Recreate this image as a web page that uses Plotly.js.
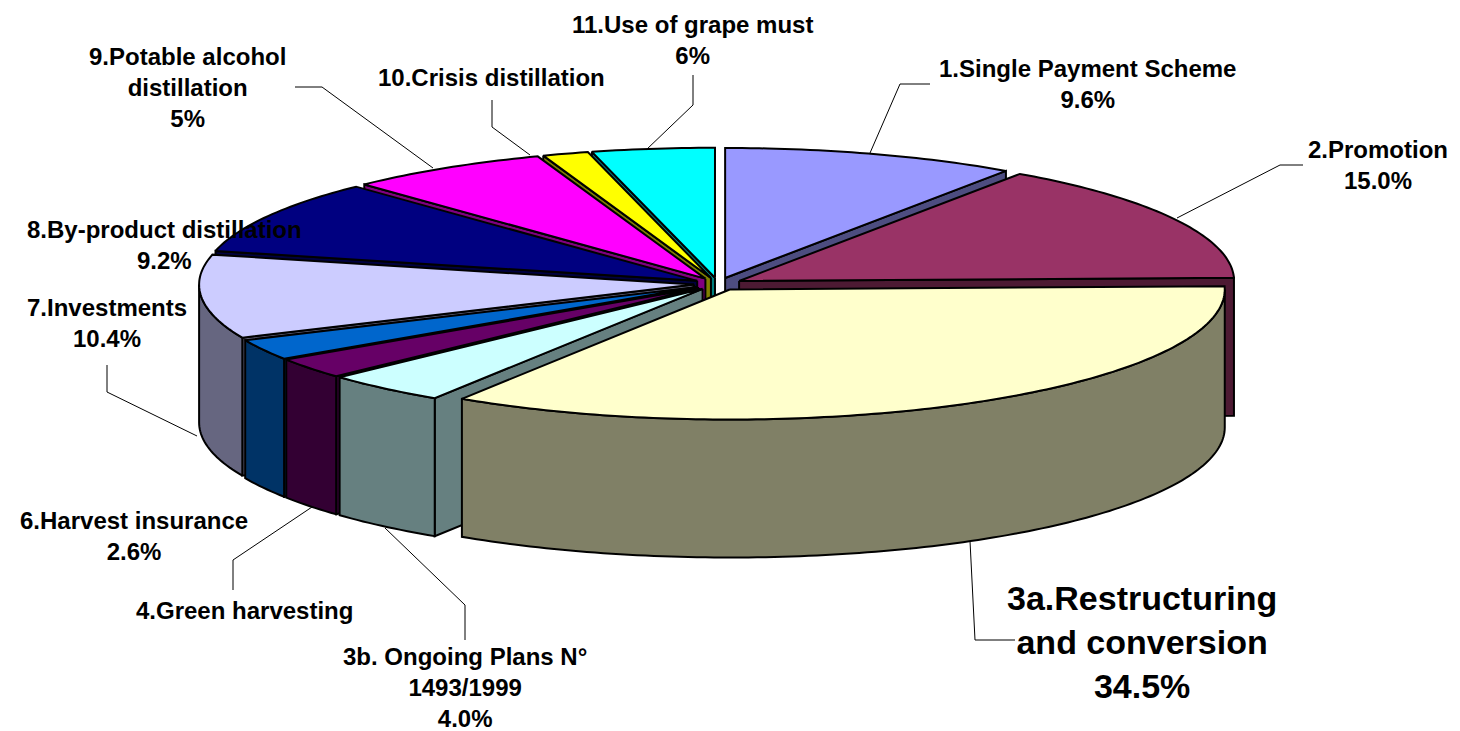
<!DOCTYPE html>
<html>
<head>
<meta charset="utf-8">
<script src="https://cdn.plot.ly/plotly-3.0.1.min.js"></script>
<style>html,body{margin:0;padding:0;background:#fff}#chart{width:1460px;height:731px}</style>
</head>
<body>
<div id="chart"></div>
<script>
// Data
const categories = ["1.Single Payment Scheme","2.Promotion","3a.Restructuring and conversion","3b. Ongoing Plans N° 1493/1999","4.Green harvesting","6.Harvest insurance","7.Investments","8.By-product distillation","9.Potable alcohol distillation","10.Crisis distillation","11.Use of grape must"];
const values = [9.6,15.0,34.5,4.0,2.6,2.6,10.4,9.2,6.6,1.5,4.0];
const topColors = ["#9999FF","#993366","#FFFFCC","#CCFFFF","#660066","#0066CC","#CCCCFF","#000080","#FF00FF","#FFFF00","#00FFFF"];
const sideColors = ["#4D4D80","#4D1A33","#808066","#668080","#330033","#003366","#666680","#000040","#800080","#808000","#008080"];
const paintOrder = [10,0,9,8,1,7,6,5,4,3,2];

// Projection of the pie disc
const C = {x:718, y:284}, A = 495, B = 130, EXPLODE = 24, DEPTH = 138;
const rad = d => d*Math.PI/180;
const total = values.reduce((s,v)=>s+v,0);
let run = 0;
const wedges = values.map(v=>{const t1=run/total*360; run+=v; return {t1, t2:run/total*360};});

function arc(ap,t1,t2,dy){
  const n=Math.max(2,Math.ceil((t2-t1)/1)), xs=[], ys=[];
  for(let i=0;i<=n;i++){const t=rad(t1+(t2-t1)*i/n); xs.push(ap.x+A*Math.sin(t)); ys.push(ap.y-B*Math.cos(t)+dy);}
  return {xs,ys};
}
function poly(xs,ys,color,name){
  return {type:"scatter",mode:"lines",x:xs,y:ys,fill:"toself",fillcolor:color,name:name,
    line:{color:"#000",width:2,simplify:false},hoverinfo:"skip",showlegend:false};
}
function radialFace(ap,t,color,name){
  const p=arc(ap,t,t,0), px=p.xs[0], py=p.ys[0];
  return poly([ap.x,px,px,ap.x,ap.x],[ap.y,py,py+DEPTH,ap.y+DEPTH,ap.y],color,name);
}
const traces=[];
paintOrder.forEach(i=>{
  const w=wedges[i], mid=rad((w.t1+w.t2)/2), nm=categories[i];
  const ap={x:C.x+EXPLODE*Math.sin(mid), y:C.y-EXPLODE*B/A*Math.cos(mid)};
  if(Math.sin(rad(w.t1))<0) traces.push(radialFace(ap,w.t1,sideColors[i],nm));
  if(Math.sin(rad(w.t2))>0) traces.push(radialFace(ap,w.t2,sideColors[i],nm));
  const a=Math.max(w.t1,90), b=Math.min(w.t2,270);
  if(b>a){
    const up=arc(ap,a,b,0), lo=arc(ap,a,b,DEPTH);
    traces.push(poly(up.xs.concat(lo.xs.slice().reverse(),[up.xs[0]]),up.ys.concat(lo.ys.slice().reverse(),[up.ys[0]]),sideColors[i],nm));
  }
  const r=arc(ap,w.t1,w.t2,0);
  traces.push(poly([ap.x].concat(r.xs,[ap.x]),[ap.y].concat(r.ys,[ap.y]),topColors[i],nm));
});

// Label text and placement
const labelText = ["1.Single Payment Scheme<br>9.6%","2.Promotion<br>15.0%","3a.Restructuring<br>and conversion<br>34.5%","3b. Ongoing Plans N°<br>1493/1999<br>4.0%","4.Green harvesting","6.Harvest insurance<br>2.6%","7.Investments<br>10.4%","8.By-product distillation<br>9.2%","9.Potable alcohol<br>distillation<br>5%","10.Crisis distillation","11.Use of grape must<br>6%"];
const labelX = [1087,1378,1142,465,244,134,107,164,187,491,692];
const labelY = [84,165,642,687,610,536,323,245,87,77,40];
const labelSize = [24,24,34,24,24,24,24,24,24,24,24];
const annotations = labelText.map((t,i)=>({xref:"x",yref:"y",x:labelX[i],y:labelY[i],text:"<b>"+t+"</b>",showarrow:false,
  xanchor:"center",yanchor:"middle",align:"center",font:{family:"Liberation Sans, Arial, sans-serif",size:labelSize[i],color:"#000"}}));

const leaders = ["M870,153L900,84L930,84","M1177,218L1280,165L1303,165","M970,541L975,640L1015,640","M385,528L465,605L465,640","M312,507L233,560L233,590","M197,436L107,392L107,365","M433,168L322,87L295,87","M530,155L492,127L492,100","M646,150L693,105L693,75"];
const shapes = leaders.map(p=>({type:"path",xref:"x",yref:"y",path:p,line:{color:"#000",width:1},layer:"above"}));

const hidden={visible:false,fixedrange:true};
Plotly.newPlot("chart",traces,{
  width:1460,height:731,margin:{l:0,r:0,t:0,b:0},paper_bgcolor:"#fff",plot_bgcolor:"#fff",showlegend:false,
  xaxis:Object.assign({range:[0,1460]},hidden),yaxis:Object.assign({range:[731,0]},hidden),
  annotations,shapes
},{displayModeBar:false,staticPlot:true});
</script>
</body>
</html>
